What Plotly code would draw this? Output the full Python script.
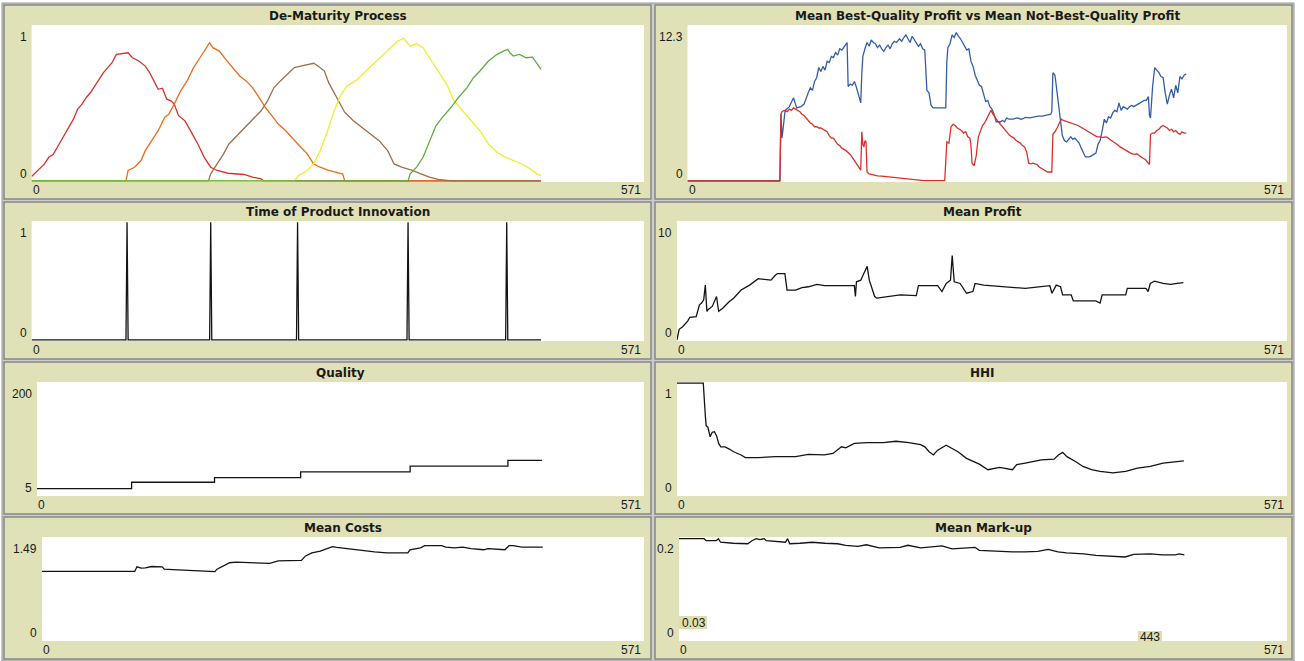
import plotly.graph_objects as go

W, H = 1304, 661

# ---------------- data ----------------
x_max = 571
last_tick = 475
innovation_ticks = [89, 167, 248, 351, 443]

# De-Maturity Process (five product generations)
dm_red_t = [0, 6, 12, 16, 20, 24, 29, 33, 39, 43, 47, 51, 55, 59, 63, 67, 71, 75, 79, 88, 90, 94, 100, 106, 110, 114, 118, 122, 126, 130, 133, 137, 143, 149, 155, 161, 167, 173, 183, 198, 206, 214, 216, 475]
dm_red_v = [0.028, 0.067, 0.109, 0.152, 0.17, 0.217, 0.281, 0.324, 0.399, 0.464, 0.496, 0.539, 0.571, 0.614, 0.657, 0.70, 0.732, 0.764, 0.818, 0.828, 0.828, 0.796, 0.775, 0.742, 0.70, 0.646, 0.592, 0.599, 0.528, 0.517, 0.496, 0.421, 0.388, 0.313, 0.238, 0.152, 0.088, 0.067, 0.049, 0.041, 0.024, 0.013, 0.0, 0.0]

dm_orange_t = [0, 88, 90, 96, 102, 106, 112, 118, 124, 128, 133, 139, 145, 151, 157, 163, 166, 169, 175, 181, 186, 194, 200, 206, 212, 218, 224, 230, 237, 245, 251, 257, 263, 269, 277, 287, 290, 292, 475]
dm_orange_v = [0, 0, 0.067, 0.088, 0.131, 0.195, 0.26, 0.324, 0.41, 0.431, 0.496, 0.582, 0.646, 0.732, 0.796, 0.861, 0.893, 0.861, 0.839, 0.785, 0.742, 0.678, 0.646, 0.603, 0.539, 0.474, 0.421, 0.367, 0.324, 0.26, 0.217, 0.174, 0.109, 0.088, 0.067, 0.049, 0.045, 0.0, 0.0]

dm_brown_t = [0, 165, 167, 173, 179, 184, 190, 198, 206, 214, 220, 226, 232, 239, 245, 251, 259, 263, 267, 273, 277, 281, 287, 292, 300, 308, 316, 324, 332, 338, 345, 355, 363, 371, 379, 392, 475]
dm_brown_v = [0, 0, 0.045, 0.109, 0.174, 0.238, 0.281, 0.345, 0.399, 0.453, 0.517, 0.603, 0.646, 0.689, 0.732, 0.742, 0.753, 0.76, 0.742, 0.71, 0.635, 0.582, 0.506, 0.442, 0.388, 0.345, 0.303, 0.26, 0.195, 0.109, 0.088, 0.067, 0.045, 0.024, 0.009, 0.0, 0.0]

dm_yellow_t = [0, 245, 249, 257, 263, 269, 275, 281, 287, 294, 302, 310, 318, 326, 334, 341, 347, 349, 353, 359, 365, 371, 379, 387, 394, 402, 410, 418, 426, 434, 442, 449, 457, 465, 471, 475]
dm_yellow_v = [0, 0, 0.034, 0.067, 0.109, 0.195, 0.303, 0.431, 0.539, 0.614, 0.646, 0.70, 0.753, 0.807, 0.861, 0.903, 0.921, 0.903, 0.871, 0.886, 0.861, 0.796, 0.71, 0.624, 0.517, 0.453, 0.388, 0.324, 0.238, 0.185, 0.152, 0.131, 0.109, 0.077, 0.045, 0.034]

dm_green_t = [0, 351, 353, 359, 365, 371, 377, 383, 391, 398, 406, 412, 418, 426, 434, 440, 444, 446, 449, 455, 461, 467, 471, 475]
dm_green_v = [0, 0, 0.045, 0.088, 0.152, 0.26, 0.356, 0.41, 0.474, 0.539, 0.603, 0.667, 0.71, 0.775, 0.818, 0.839, 0.85, 0.828, 0.807, 0.818, 0.796, 0.80, 0.764, 0.721]

# Mean Best-Quality Profit (blue) vs Mean Not-Best-Quality Profit (red)
bq_t = [0, 88, 89, 90, 93, 97, 101, 104, 108, 111, 115, 117, 119, 121, 123, 125, 127, 129, 131, 133, 135, 137, 139, 141, 143, 145, 147, 150, 152, 153, 155, 157, 159, 161, 163, 165, 166, 167, 169, 171, 173, 175, 177, 179, 181, 183, 185, 187, 189, 191, 193, 195, 197, 199, 202, 204, 206, 208, 210, 212, 214, 216, 218, 220, 222, 224, 226, 228, 230, 232, 234, 240, 246, 247, 248, 250, 252, 254, 256, 258, 260, 262, 264, 266, 268, 270, 272, 274, 276, 278, 280, 282, 284, 286, 288, 290, 292, 294, 298, 300, 302, 304, 306, 310, 314, 318, 322, 326, 330, 334, 338, 342, 346, 347, 348, 350, 352, 354, 356, 357, 359, 361, 363, 365, 367, 369, 371, 373, 375, 377, 379, 381, 383, 385, 387, 389, 391, 393, 395, 397, 399, 401, 403, 405, 407, 409, 411, 413, 415, 417, 419, 421, 423, 425, 427, 429, 431, 433, 435, 437, 439, 440, 441, 443, 445, 447, 449, 451, 453, 455, 457, 459, 461, 463, 465, 467, 469, 471, 473, 475]
bq_v = [0, 0, 5.3, 3.4, 5.6, 5.9, 6.6, 5.8, 5.9, 6.1, 7.0, 7.4, 7.2, 7.9, 8.2, 9.0, 8.7, 9.1, 8.8, 9.5, 9.4, 9.9, 9.8, 10.2, 10.0, 10.5, 10.4, 10.8, 11.0, 7.5, 7.7, 7.6, 7.9, 7.4, 6.8, 6.2, 8.5, 9.9, 10.5, 11.0, 10.7, 11.2, 11.0, 10.9, 10.6, 10.8, 10.5, 10.3, 10.6, 10.8, 10.5, 10.9, 11.1, 11.0, 11.3, 11.1, 11.4, 11.6, 11.3, 11.0, 11.5, 11.2, 10.9, 10.7, 10.9, 10.5, 10.4, 7.2, 7.0, 6.0, 5.8, 5.8, 5.8, 9.5, 10.6, 10.9, 11.6, 11.4, 11.8, 11.5, 11.3, 11.0, 10.7, 10.4, 10.5, 9.5, 9.1, 8.4, 8.0, 7.6, 7.5, 6.8, 6.3, 6.4, 5.9, 5.7, 5.3, 4.7, 4.7, 4.8, 4.7, 5.0, 4.9, 4.9, 5.0, 4.9, 5.05, 5.0, 5.1, 5.15, 5.15, 5.2, 5.3, 5.5, 8.6, 8.4, 7.0, 6.0, 4.2, 3.6, 3.2, 3.1, 3.3, 3.5, 3.3, 3.4, 3.2, 3.0, 2.6, 2.2, 1.9, 1.9, 1.9, 2.0, 2.1, 2.2, 2.9, 3.2, 4.0, 4.9, 4.6, 5.1, 5.0, 5.4, 5.6, 5.5, 6.2, 5.6, 5.9, 5.8, 5.7, 5.9, 6.0, 5.9, 6.0, 6.1, 6.2, 6.3, 6.4, 6.4, 6.7, 5.2, 5.0, 7.5, 9.0, 8.8, 8.6, 8.3, 8.2, 7.0, 6.1, 6.8, 7.3, 6.6, 7.6, 7.0, 8.3, 8.1, 8.4, 8.5]

nbq_t = [0, 88, 89, 90, 92, 95, 97, 99, 101, 103, 105, 107, 109, 111, 113, 115, 117, 119, 121, 123, 125, 127, 129, 131, 133, 135, 137, 139, 141, 143, 145, 147, 151, 155, 159, 163, 165, 166, 167, 168, 169, 170, 171, 173, 177, 181, 185, 190, 195, 200, 205, 210, 215, 220, 225, 245, 247, 249, 251, 253, 255, 257, 259, 261, 263, 265, 267, 269, 270, 271, 273, 275, 277, 279, 281, 283, 285, 287, 289, 291, 293, 295, 297, 299, 301, 303, 305, 307, 309, 311, 313, 315, 317, 319, 321, 323, 325, 327, 329, 331, 333, 335, 337, 339, 341, 343, 345, 347, 348, 350, 352, 354, 356, 358, 360, 362, 364, 366, 368, 370, 372, 374, 376, 378, 380, 382, 384, 386, 388, 390, 392, 394, 396, 398, 400, 402, 404, 406, 408, 410, 412, 414, 416, 418, 420, 422, 424, 426, 428, 430, 432, 434, 436, 438, 440, 441, 443, 445, 447, 449, 451, 453, 455, 457, 459, 461, 463, 465, 467, 469, 471, 473, 475]
nbq_v = [0, 0, 5.3, 5.5, 5.6, 5.5, 5.7, 5.6, 5.8, 5.7, 5.6, 5.5, 5.3, 5.2, 5.0, 4.8, 4.6, 4.5, 4.3, 4.3, 4.2, 4.2, 4.1, 4.0, 3.9, 3.6, 3.4, 3.4, 3.1, 2.9, 2.8, 2.6, 2.4, 2.1, 1.6, 1.1, 0.85, 3.9, 2.9, 2.7, 3.2, 3.1, 0.7, 0.55, 0.45, 0.4, 0.38, 0.33, 0.3, 0.25, 0.2, 0.15, 0.12, 0.06, 0.02, 0.02, 3.1, 3.0, 4.3, 4.5, 4.4, 4.2, 4.1, 4.0, 3.8, 3.9, 3.5, 3.4, 2.8, 1.4, 1.2, 2.0, 3.5, 4.0, 4.4, 4.6, 4.9, 5.3, 5.6, 5.3, 5.0, 4.8, 4.6, 4.4, 4.2, 4.0, 3.8, 3.6, 3.5, 3.4, 3.2, 3.1, 3.0, 2.8, 2.7, 2.3, 1.4, 1.35, 1.4, 1.35, 1.3, 1.1, 1.0, 0.9, 0.8, 0.7, 0.7, 0.7, 3.7, 3.9, 4.2, 4.5, 4.9, 4.8, 4.75, 4.7, 4.65, 4.6, 4.5, 4.45, 4.4, 4.3, 4.2, 4.1, 3.95, 3.85, 3.75, 3.7, 3.6, 3.5, 3.5, 3.45, 3.45, 3.5, 3.45, 3.3, 3.2, 3.1, 2.95, 2.85, 2.7, 2.6, 2.45, 2.35, 2.3, 2.2, 2.15, 2.1, 2.15, 2.0, 1.9, 1.8, 1.7, 1.5, 1.3, 3.7, 3.8, 3.8, 4.0, 4.1, 4.3, 4.4, 4.3, 4.2, 4.0, 4.1, 3.9, 4.0, 3.8, 3.7, 3.9, 3.8, 3.8]

# Quality (best quality level, changes at innovations)
quality_t = [0, 89, 167, 248, 351, 443, 475]
quality_v = [16, 27, 35, 45, 55, 65, 65]

# Mean Profit
mp_t = [0, 2, 5, 10, 12, 18, 21, 23, 25, 26.5, 28, 29, 33, 37, 39, 43, 49, 53, 60, 68, 76, 88, 92, 94, 101, 103, 111, 117, 123, 131, 138, 166, 167, 168, 172, 178, 180, 185, 187, 197, 209, 224, 226, 244, 248, 252, 256, 257.6, 259.5, 265, 271, 277, 279, 287, 306, 326, 349, 351, 355, 359, 361, 369, 371, 392, 396, 398, 420, 421.5, 439, 441, 443, 447, 455, 462, 468, 474]
mp_v = [0, 0.89, 1.09, 1.59, 1.92, 1.98, 2.98, 3.12, 3.4, 4.65, 2.42, 2.56, 2.84, 3.68, 2.42, 2.7, 3.26, 3.54, 4.23, 4.65, 5.2, 5.07, 5.49, 5.63, 5.63, 4.23, 4.23, 4.43, 4.51, 4.71, 4.6, 4.6, 3.68, 4.93, 5.07, 6.25, 5.07, 3.68, 3.54, 3.68, 3.82, 3.76, 4.6, 4.6, 4.1, 4.79, 5.07, 7.16, 4.93, 4.79, 3.96, 4.1, 4.79, 4.65, 4.51, 4.37, 4.6, 3.96, 4.65, 4.51, 3.82, 3.82, 3.31, 3.31, 3.12, 3.82, 3.82, 4.37, 4.37, 4.1, 4.79, 4.99, 4.79, 4.71, 4.79, 4.87]

# HHI
hhi_t = [0, 24.6, 26.5, 27.3, 29, 31, 33, 35, 37, 39, 41, 45, 49, 53, 60, 64, 76, 92, 111, 123, 138, 146, 154, 158, 166, 178, 193, 205, 217, 228, 232, 236, 240, 244, 252, 256, 263, 271, 283, 291, 302, 314, 318, 326, 341, 353, 357, 361, 365, 373, 380, 388, 396, 408, 420, 431, 443, 455, 466, 474.5]
hhi_v = [1.0, 1.0, 0.71, 0.62, 0.605, 0.52, 0.56, 0.565, 0.53, 0.46, 0.43, 0.43, 0.41, 0.386, 0.357, 0.333, 0.333, 0.342, 0.342, 0.363, 0.357, 0.371, 0.43, 0.42, 0.46, 0.468, 0.468, 0.48, 0.468, 0.45, 0.43, 0.386, 0.357, 0.40, 0.444, 0.42, 0.386, 0.327, 0.275, 0.225, 0.246, 0.225, 0.27, 0.284, 0.313, 0.32, 0.357, 0.38, 0.342, 0.298, 0.254, 0.225, 0.21, 0.196, 0.21, 0.24, 0.254, 0.284, 0.298, 0.304]

# Mean Costs
mc_t = [0, 88, 90, 94, 98, 104, 114, 116, 124, 136, 152, 164, 166, 170, 174, 178, 184, 200, 216, 224, 240, 246, 250, 256, 264, 271.5, 275.5, 279.5, 287.5, 295.5, 303.5, 315.5, 327, 347, 349, 359, 363, 379, 383, 391, 399, 407, 419, 423, 439, 443, 447, 455, 475]
mc_v = [1.003, 1.003, 1.07, 1.05, 1.055, 1.075, 1.07, 1.036, 1.03, 1.02, 1.01, 1.0, 1.036, 1.07, 1.1, 1.13, 1.14, 1.13, 1.12, 1.156, 1.156, 1.165, 1.23, 1.275, 1.3, 1.337, 1.366, 1.356, 1.337, 1.32, 1.31, 1.29, 1.275, 1.275, 1.32, 1.347, 1.38, 1.38, 1.36, 1.347, 1.36, 1.337, 1.32, 1.337, 1.32, 1.38, 1.38, 1.36, 1.36]

# Mean Mark-up
mu_t = [0, 23.5, 25.5, 35, 37, 39, 51, 64.6, 68.5, 72.5, 76, 80, 82, 90, 100, 102, 104, 113.6, 125, 137, 149, 156.6, 168, 176, 188, 207.6, 215, 227, 247, 256.5, 278, 282, 297.6, 313, 325, 337, 346.6, 356, 364, 380, 391.6, 399.5, 411, 419, 427, 434.7, 442.5, 454, 466, 470, 474.6]
mu_v = [0.199, 0.199, 0.195, 0.195, 0.199, 0.192, 0.19, 0.189, 0.195, 0.199, 0.197, 0.199, 0.195, 0.194, 0.192, 0.199, 0.189, 0.19, 0.192, 0.19, 0.189, 0.186, 0.184, 0.187, 0.181, 0.182, 0.186, 0.181, 0.185, 0.179, 0.182, 0.176, 0.174, 0.173, 0.173, 0.174, 0.178, 0.173, 0.171, 0.169, 0.166, 0.165, 0.165, 0.163, 0.168, 0.169, 0.169, 0.167, 0.167, 0.169, 0.167]

# ------------- derived series -------------
innov_t = list(range(0, last_tick + 1))
innov_v = [1 if t in innovation_ticks else 0 for t in innov_t]

# ------------- layout (pixels) -------------
BEIGE = "rgb(225,225,184)"
BORDER = "rgb(135,135,135)"
FONT = "Liberation Sans"
TFONT = "DejaVu Sans"
TXT = "#1a1a1a"

panels = [
    dict(box=(4, 5, 651, 199), plot=(31.6, 25, 644, 182), title="De-Maturity Process", yr=(0, 1), yl=("0", "1"), xly=190, ty=16),
    dict(box=(655, 5, 1292, 199), plot=(687.5, 25, 1287, 182), title="Mean Best-Quality Profit vs Mean Not-Best-Quality Profit", yr=(0, 12.3), yl=("0", "12.3"), xly=190, ty=16),
    dict(box=(4, 202, 651, 359), plot=(31.6, 221, 644, 341), title="Time of Product Innovation", yr=(0, 1), yl=("0", "1"), xly=350, ty=212),
    dict(box=(655, 202, 1292, 359), plot=(677, 221, 1287, 341), title="Mean Profit", yr=(0, 10), yl=("0", "10"), xly=350, ty=212),
    dict(box=(4, 362, 651, 514), plot=(37, 382, 644, 496), title="Quality", yr=(5, 200), yl=("5", "200"), xly=505, ty=373),
    dict(box=(655, 362, 1292, 514), plot=(677, 382, 1287, 496), title="HHI", yr=(0, 1), yl=("0", "1"), xly=505, ty=373),
    dict(box=(4, 517, 651, 659), plot=(42, 537, 644, 641), title="Mean Costs", yr=(0, 1.49), yl=("0", "1.49"), xly=650, ty=528),
    dict(box=(655, 517, 1292, 659), plot=(679, 537, 1287, 641), title="Mean Mark-up", yr=(0, 0.2), yl=("0", "0.2"), xly=650, ty=528),
]

def PX(px):
    return px / W

def PY(py):
    return 1 - py / H

fig = go.Figure()
shapes = []
annotations = []
layout_axes = {}

# outer frame
shapes.append(dict(type="rect", xref="paper", yref="paper", x0=PX(2), x1=PX(1294), y0=PY(661), y1=PY(3),
                   fillcolor="rgb(205,205,205)", line=dict(color="rgb(150,150,150)", width=1), layer="below"))

for i, p in enumerate(panels, start=1):
    bx0, by0, bx1, by1 = p["box"]
    wx0, wy0, wx1, wy1 = p["plot"]
    shapes.append(dict(type="rect", xref="paper", yref="paper", x0=PX(bx0), x1=PX(bx1), y0=PY(by1), y1=PY(by0),
                       fillcolor=BEIGE, line=dict(color=BORDER, width=1.5), layer="below"))
    shapes.append(dict(type="rect", xref="paper", yref="paper", x0=PX(wx0), x1=PX(wx1), y0=PY(wy1), y1=PY(wy0),
                       fillcolor="white", line=dict(width=0), layer="below"))
    ymin, ymax = p["yr"]
    hpx = wy1 - wy0
    pad = (ymax - ymin) * 1.2 / hpx
    sfx = "" if i == 1 else str(i)
    layout_axes["xaxis" + sfx] = dict(domain=[PX(wx0), PX(wx1)], range=[0, x_max], visible=False,
                                      fixedrange=True, anchor="y" + sfx)
    layout_axes["yaxis" + sfx] = dict(domain=[PY(wy1), PY(wy0)], range=[ymin - pad, ymax + pad], visible=False,
                                      fixedrange=True, anchor="x" + sfx)
    annotations.append(dict(text="<b>" + p["title"] + "</b>", x=PX((wx0 + wx1) / 2), y=PY(p["ty"]),
                            xref="paper", yref="paper", showarrow=False, xanchor="center", yanchor="middle",
                            font=dict(family=TFONT, size=12, color=TXT)))
    annotations.append(dict(text=p["yl"][1], x=PX(wx0 - 3), y=PY(wy0 + 12), xref="paper", yref="paper",
                            showarrow=False, xanchor="right", yanchor="middle",
                            font=dict(family=FONT, size=12, color=TXT)))
    annotations.append(dict(text=p["yl"][0], x=PX(wx0 - 3), y=PY(wy1 - 8.5), xref="paper", yref="paper",
                            showarrow=False, xanchor="right", yanchor="middle",
                            font=dict(family=FONT, size=12, color=TXT)))
    annotations.append(dict(text="0", x=PX(wx0 - 1), y=PY(p["xly"]), xref="paper", yref="paper",
                            showarrow=False, xanchor="left", yanchor="middle",
                            font=dict(family=FONT, size=12, color=TXT)))
    annotations.append(dict(text=str(x_max), x=PX(wx1 - 1), y=PY(p["xly"]), xref="paper", yref="paper",
                            showarrow=False, xanchor="right", yanchor="middle",
                            font=dict(family=FONT, size=12, color=TXT)))

def add_line(t, v, color, ax, shape="linear", width=1.3):
    sfx = "" if ax == 1 else str(ax)
    fig.add_trace(go.Scatter(x=t, y=v, mode="lines", line=dict(color=color, width=width, shape=shape),
                             xaxis="x" + sfx, yaxis="y" + sfx, hoverinfo="skip", showlegend=False))

RED = "rgb(215,50,41)"
ORANGE = "rgb(241,106,21)"
BROWN = "rgb(157,110,72)"
YELLOW = "rgb(237,237,49)"
GREEN = "rgb(89,176,60)"
BLUE = "rgb(52,93,169)"
BLACK = "rgb(20,20,20)"

add_line(dm_red_t, dm_red_v, RED, 1)
add_line(dm_orange_t, dm_orange_v, ORANGE, 1)
add_line(dm_brown_t, dm_brown_v, BROWN, 1)
add_line(dm_yellow_t, dm_yellow_v, YELLOW, 1)
add_line(dm_green_t, dm_green_v, GREEN, 1)

add_line([0, 88], [0, 0], BLUE, 2)
add_line(bq_t, bq_v, BLUE, 2)
add_line(nbq_t, nbq_v, RED, 2)

add_line(innov_t, innov_v, BLACK, 3)
add_line(mp_t, mp_v, BLACK, 4)
add_line(quality_t, quality_v, BLACK, 5, shape="hv")
add_line(hhi_t, hhi_v, BLACK, 6)
add_line(mc_t, mc_v, BLACK, 7)
add_line(mu_t, mu_v, BLACK, 8)

# mouse-over coordinate readouts in the Mean Mark-up plot
HL = "rgb(222,222,176)"
shapes.append(dict(type="rect", xref="paper", yref="paper", x0=PX(679), x1=PX(707), y0=PY(629), y1=PY(616),
                   fillcolor=HL, line=dict(width=0), layer="above"))
annotations.append(dict(text="0.03", x=PX(680), y=PY(622.5), xref="paper", yref="paper", showarrow=False,
                        xanchor="left", yanchor="middle", font=dict(family=FONT, size=12, color=TXT)))
shapes.append(dict(type="rect", xref="paper", yref="paper", x0=PX(1138), x1=PX(1162), y0=PY(642), y1=PY(631),
                   fillcolor=HL, line=dict(width=0), layer="above"))
annotations.append(dict(text="443", x=PX(1150), y=PY(636.5), xref="paper", yref="paper", showarrow=False,
                        xanchor="center", yanchor="middle", font=dict(family=FONT, size=12, color=TXT)))

fig.update_layout(width=W, height=H, margin=dict(l=0, r=0, t=0, b=0, pad=0),
                  paper_bgcolor="white", plot_bgcolor="rgba(0,0,0,0)",
                  shapes=shapes, annotations=annotations, showlegend=False, **layout_axes)

fig.write_html("out.html", config={"displayModeBar": False},
               post_script="document.body.style.margin='0';document.body.style.padding='0';document.body.style.overflow='hidden';")
